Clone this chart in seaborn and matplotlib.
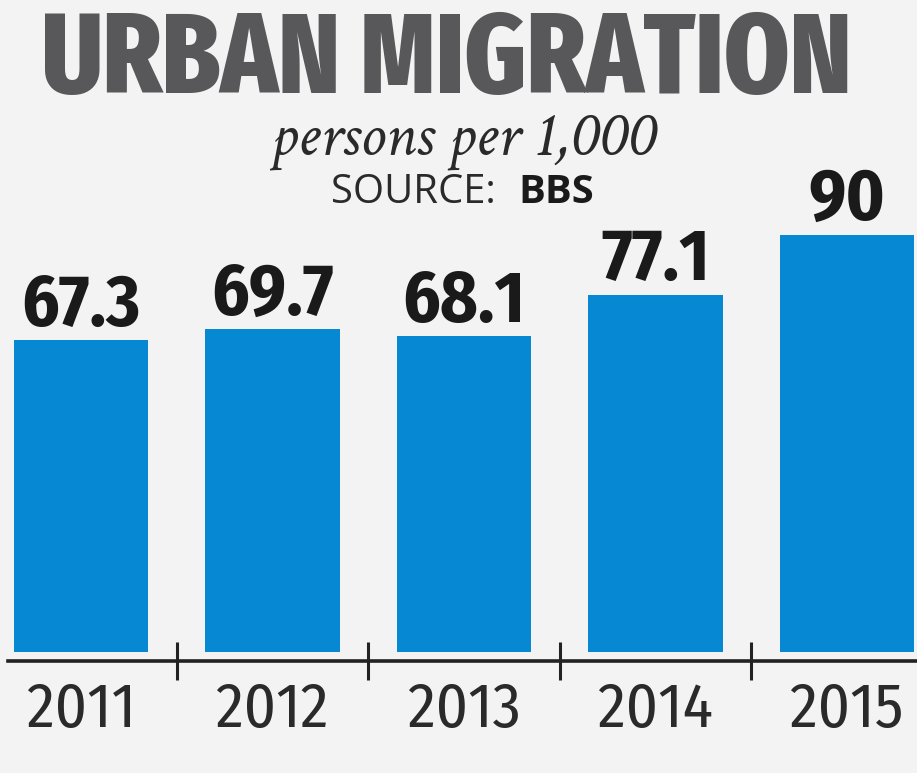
import matplotlib
matplotlib.use("Agg")
import matplotlib.pyplot as plt
import seaborn as sns
import pandas as pd

# ---- data ----
years = ["2011", "2012", "2013", "2014", "2015"]
values = [67.3, 69.7, 68.1, 77.1, 90]
title = "URBAN MIGRATION"
subtitle = "persons per 1,000"
source_label = "SOURCE:"
source_name = "BBS"

df = pd.DataFrame({"year": years, "value": values})

W, H = 917, 773
BG = "#f3f3f3"
BAR = "#0788d3"

sns.set_theme(style="white")
fig = plt.figure(figsize=(W / 100, H / 100), dpi=100, facecolor=BG)

# axes: spine at y=661 px, from x=8 px to right edge
ax = fig.add_axes([8 / W, (H - 661) / H, 1 - 8 / W, 661 / H])
ax.set_facecolor(BG)

sns.barplot(data=df, x="year", y="value", color=BAR, saturation=1,
            width=0.70, ax=ax, edgecolor="none")

px_per_unit = 312 / 67.3
ax.set_ylim(-(661 - 652) / px_per_unit, 652 / px_per_unit)
ax.set_xlim(-(81 - 8) / 191.5, 4 + (917 - 847) / 191.5)

for s in ["top", "right", "left"]:
    ax.spines[s].set_visible(False)
ax.spines["bottom"].set_color("#222222")
ax.spines["bottom"].set_linewidth(2.6)
ax.set_yticks([])
ax.set_xlabel("")
ax.set_ylabel("")

ax.set_xticks(range(len(years)))
ax.set_xticklabels(years, fontfamily="Fira Sans Condensed", fontweight=400,
                   fontsize=45, color="#2a2a2a")
ax.tick_params(axis="x", which="major", bottom=True, length=0, pad=14)
ax.set_xticks([i + 0.5 for i in range(len(years) - 1)], minor=True)
ax.tick_params(axis="x", which="minor", bottom=True, direction="inout",
               length=27, width=2.2, color="#222222")

for cont in ax.containers:
    ax.bar_label(cont, labels=[f"{v:g}" for v in values], padding=-1,
                 fontfamily="Fira Sans Condensed", fontweight=700,
                 fontsize=52, color="#1a1a1a")

renderer = fig.canvas.get_renderer()


def fit(t, target_w):
    bb = t.get_window_extent(renderer)
    t.set_fontsize(t.get_fontsize() * target_w / bb.width)


t = fig.text(447 / W, (H - 93) / H, title, ha="center", va="baseline",
             fontfamily="Fira Sans Extra Condensed", fontweight=800,
             fontsize=80, color="#58585a")
fit(t, 810)

s = fig.text(463 / W, (H - 154) / H, subtitle, ha="center", va="baseline",
             fontfamily="Crimson Text", fontstyle="italic", fontsize=38,
             color="#2a2a2a")
fit(s, 385)

src = fig.text(496 / W, (H - 203) / H, source_label, ha="right",
               va="baseline", fontfamily="Open Sans", fontweight=400,
               fontsize=26, color="#2a2a2a")
fit(src, 165)
fig.text(518 / W, (H - 203) / H, source_name, ha="left", va="baseline",
         fontfamily="Open Sans", fontweight=700,
         fontsize=src.get_fontsize(), color="#1a1a1a")

fig.savefig("out.png", dpi=100, facecolor=BG)
